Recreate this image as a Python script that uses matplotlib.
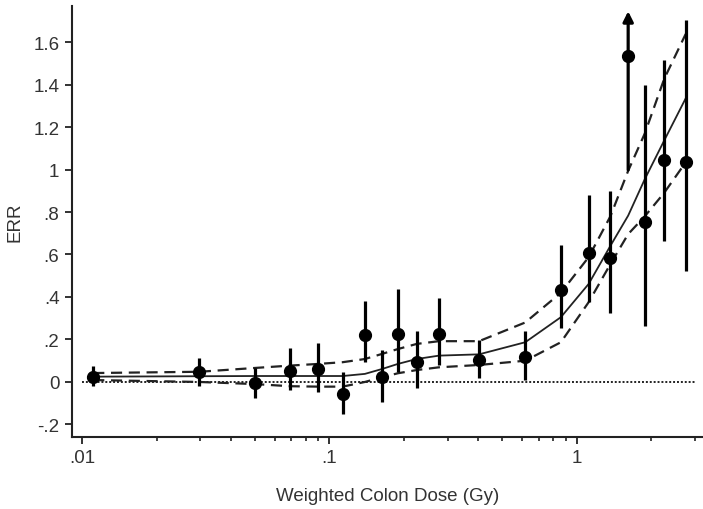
import matplotlib
matplotlib.use('Agg')
import matplotlib.pyplot as plt
from matplotlib.ticker import FixedLocator, LogLocator, NullFormatter

plt.rcParams['font.family'] = ['Liberation Sans', 'DejaVu Sans']

# observed ERR by dose category (point, lower and upper limit)
dose = [0.0111, 0.0298, 0.0501, 0.0692, 0.0902, 0.113, 0.139, 0.163, 0.189, 0.225,
        0.277, 0.402, 0.618, 0.861, 1.114, 1.365, 1.61, 1.88, 2.25, 2.75]
err = [0.025, 0.048, -0.003, 0.053, 0.061, -0.056, 0.221, 0.022, 0.224, 0.096,
       0.224, 0.104, 0.119, 0.434, 0.607, 0.582, 1.534, 0.752, 1.043, 1.034]
err_lo = [-0.02, -0.017, -0.075, -0.04, -0.045, -0.152, 0.093, -0.096, 0.048, -0.028,
          0.08, 0.017, 0.011, 0.254, 0.375, 0.325, 0.998, 0.262, 0.662, 0.524]
err_hi = [0.074, 0.113, 0.064, 0.16, 0.183, 0.046, 0.38, 0.15, 0.438, 0.238,
          0.394, 0.198, 0.241, 0.646, 0.881, 0.90, 1.70, 1.398, 1.515, 1.705]
arrow_idx = 16   # upper limit off the chart

# smoothed fit and its bounds, read at the same doses
fit = [0.025, 0.027, 0.028, 0.028, 0.028, 0.028, 0.038, 0.061, 0.085, 0.108,
       0.124, 0.130, 0.187, 0.305, 0.461, 0.641, 0.783, 0.955, 1.136, 1.335]
fit_hi = [0.042, 0.048, 0.066, 0.077, 0.085, 0.093, 0.108, 0.132, 0.155, 0.179,
          0.192, 0.192, 0.28, 0.42, 0.587, 0.78, 0.994, 1.17, 1.426, 1.638]
fit_lo = [0.009, 0.0, -0.01, -0.02, -0.022, -0.022, 0.0, 0.022, 0.041, 0.056,
          0.069, 0.08, 0.10, 0.187, 0.375, 0.555, 0.696, 0.78, 0.89, 1.034]

yticks = [-0.2, 0, 0.2, 0.4, 0.6, 0.8, 1.0, 1.2, 1.4, 1.6]
ytick_labels = ['-.2', '0', '.2', '.4', '.6', '.8', '1', '1.2', '1.4', '1.6']
xticks = [0.01, 0.1, 1]
xtick_labels = ['.01', '.1', '1']

ink = '#222222'
txt = '#333333'

fig = plt.figure(figsize=(7.03, 5.10), dpi=100)
ax = fig.add_axes([0.1024, 0.1412, 0.8976, 0.8448])
ax.set_xscale('log')

# zero reference line
ax.plot([0.01, 3.0], [0, 0], color=ink, lw=1.4, ls=(0, (1, 1)))

# fit lines
ax.plot(dose, fit, color=ink, lw=1.3)
ax.plot(dose, fit_hi, color=ink, lw=1.6, ls=(0, (5, 3)))
ax.plot(dose, fit_lo, color=ink, lw=1.6, ls=(0, (5, 3)))

# points with intervals
for i in range(len(dose)):
    if i == arrow_idx:
        ax.annotate('', xy=(dose[i], 1.745), xytext=(dose[i], err_lo[i]),
                    arrowprops=dict(arrowstyle='-|>', lw=2.3, color='k',
                                    mutation_scale=15, shrinkA=0, shrinkB=0))
    else:
        ax.plot([dose[i], dose[i]], [err_lo[i], err_hi[i]], color='k', lw=2.3,
                solid_capstyle='butt')
ax.plot(dose, err, 'o', color='k', ms=8.5, zorder=5)

ax.set_xlim(0.00911, 3.23)
ax.set_ylim(-0.259, 1.769)

ax.set_yticks(yticks)
ax.set_yticklabels(ytick_labels)
ax.xaxis.set_major_locator(FixedLocator(xticks))
ax.set_xticklabels(xtick_labels)
ax.xaxis.set_minor_locator(LogLocator(base=10, subs=range(2, 10)))
ax.xaxis.set_minor_formatter(NullFormatter())

for s in ['top', 'right']:
    ax.spines[s].set_visible(False)
for s in ['left', 'bottom']:
    ax.spines[s].set_color(ink)
    ax.spines[s].set_linewidth(1.5)

ax.tick_params(axis='both', which='major', direction='out', length=5, width=1.3,
               color=ink, labelcolor=txt, labelsize=13.5, pad=4)
ax.tick_params(axis='x', which='minor', direction='out', length=3, width=1.2, color=ink)
ax.tick_params(axis='x', which='major', pad=4)

ax.set_xlabel('Weighted Colon Dose (Gy)', fontsize=13.5, color=txt, labelpad=15)
ax.set_ylabel('ERR', fontsize=13.5, color=txt, labelpad=7)

fig.savefig('out.png', dpi=100)
